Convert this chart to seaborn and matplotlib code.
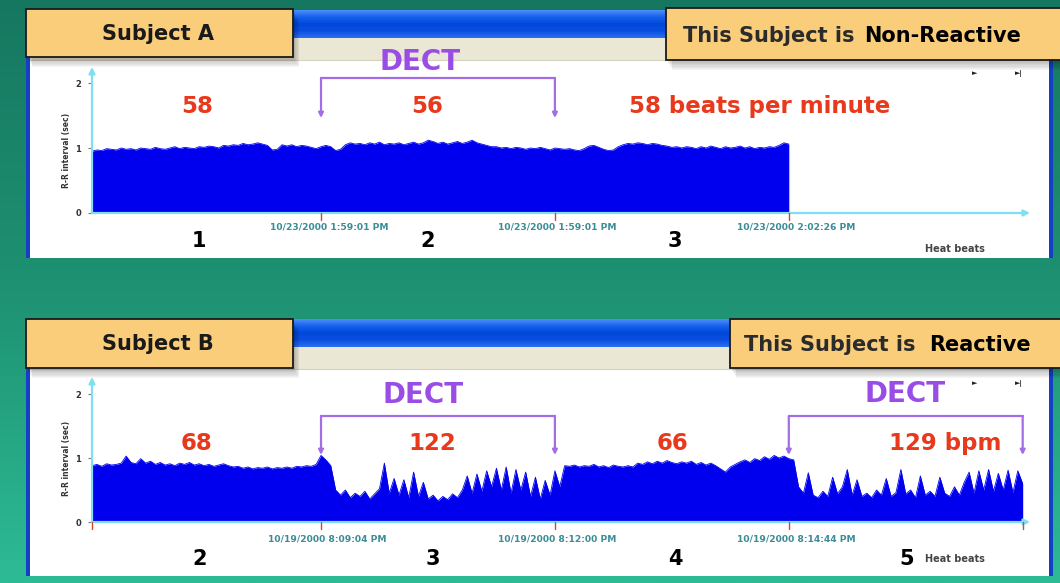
import numpy as np
import pandas as pd
import matplotlib
matplotlib.use("Agg")
import matplotlib.pyplot as plt
import seaborn as sns
from matplotlib.patches import Rectangle
from matplotlib.colors import LinearSegmentedColormap

# R-R interval envelope (sec), 48 samples per segment
a_seg1 = [0.95, 0.97, 0.96, 0.99, 0.98, 0.97, 1.00, 0.98, 0.99, 0.97,
          1.00, 0.99, 0.98, 1.01, 0.99, 0.98, 1.00, 1.02, 0.99, 1.01,
          1.00, 0.99, 1.02, 1.01, 1.03, 1.02, 1.00, 1.04, 1.03, 1.05,
          1.04, 1.07, 1.05, 1.06, 1.08, 1.06, 1.04, 0.97, 0.98, 1.05,
          1.03, 1.05, 1.02, 1.04, 1.03, 1.01, 0.99, 1.02]
a_seg2 = [1.04, 1.02, 0.96, 0.98, 1.05, 1.08, 1.06, 1.07, 1.05, 1.08,
          1.06, 1.09, 1.05, 1.07, 1.06, 1.08, 1.05, 1.07, 1.09, 1.06,
          1.08, 1.12, 1.10, 1.07, 1.09, 1.06, 1.08, 1.10, 1.07, 1.09,
          1.12, 1.08, 1.06, 1.04, 1.02, 1.02, 1.00, 1.01, 0.99, 1.01,
          1.00, 0.98, 1.00, 0.99, 1.01, 0.99, 0.97, 1.00]
a_seg3 = [0.99, 0.98, 0.99, 0.97, 0.96, 0.99, 1.03, 1.04, 1.01, 0.98,
          0.96, 0.97, 1.02, 1.05, 1.07, 1.06, 1.08, 1.07, 1.05, 1.07,
          1.06, 1.04, 1.03, 1.01, 1.02, 1.00, 1.02, 1.01, 0.99, 1.02,
          1.00, 1.03, 1.01, 0.99, 1.02, 1.00, 1.01, 1.03, 1.00, 1.02,
          0.99, 1.01, 1.00, 1.02, 1.01, 1.04, 1.08, 1.06]

b_seg1 = [0.88, 0.90, 0.87, 0.91, 0.89, 0.90, 0.92, 1.03, 0.93, 0.91,
          0.99, 0.92, 0.95, 0.90, 0.93, 0.89, 0.91, 0.88, 0.92, 0.90,
          0.93, 0.89, 0.91, 0.88, 0.90, 0.87, 0.89, 0.91, 0.88, 0.86,
          0.87, 0.84, 0.86, 0.83, 0.85, 0.84, 0.86, 0.83, 0.85, 0.84,
          0.86, 0.84, 0.87, 0.86, 0.88, 0.87, 0.90, 1.04]
b_seg2 = [0.97, 0.88, 0.50, 0.42, 0.50, 0.38, 0.45, 0.40, 0.48, 0.36,
          0.44, 0.52, 0.92, 0.45, 0.68, 0.42, 0.66, 0.38, 0.78, 0.40,
          0.62, 0.36, 0.42, 0.33, 0.40, 0.35, 0.44, 0.38, 0.50, 0.72,
          0.45, 0.75, 0.48, 0.80, 0.55, 0.84, 0.50, 0.86, 0.45, 0.82,
          0.50, 0.78, 0.40, 0.70, 0.36, 0.65, 0.42, 0.80]
b_seg3 = [0.55, 0.88, 0.87, 0.89, 0.86, 0.88, 0.87, 0.90, 0.86, 0.88,
          0.85, 0.89, 0.87, 0.86, 0.88, 0.86, 0.92, 0.90, 0.94, 0.91,
          0.95, 0.92, 0.96, 0.93, 0.91, 0.94, 0.92, 0.95, 0.90, 0.93,
          0.89, 0.92, 0.88, 0.83, 0.78, 0.86, 0.90, 0.94, 0.97, 0.93,
          0.99, 0.96, 1.02, 0.98, 1.04, 1.00, 1.03, 0.99]
b_seg4 = [0.97, 0.55, 0.45, 0.77, 0.42, 0.38, 0.48, 0.40, 0.70, 0.44,
          0.55, 0.82, 0.42, 0.66, 0.40, 0.45, 0.38, 0.50, 0.42, 0.68,
          0.40, 0.46, 0.82, 0.44, 0.50, 0.38, 0.72, 0.42, 0.48, 0.40,
          0.70, 0.45, 0.40, 0.55, 0.42, 0.62, 0.78, 0.45, 0.80, 0.50,
          0.82, 0.48, 0.76, 0.50, 0.81, 0.46, 0.80, 0.60]

a_dates = ["10/23/2000 1:59:01 PM", "10/23/2000 1:59:01 PM", "10/23/2000 2:02:26 PM"]
b_dates = ["10/19/2000 8:09:04 PM", "10/19/2000 8:12:00 PM", "10/19/2000 8:14:44 PM"]
a_rates = ["58", "56", "58 beats per minute"]
b_rates = ["68", "122", "66", "129 bpm"]
a_nums = ["1", "2", "3"]
b_nums = ["2", "3", "4", "5"]

BLUE = "#0000ee"
CYAN = "#7fdff2"
RED = "#e8391d"
PURPLE = "#9a4de6"
BRACKET = "#a36de6"
BOX = "#f9cd79"
DATE = "#3a8c95"

sns.set_style("white")
plt.rcParams["font.family"] = ["DejaVu Sans"]

W, H = 1060, 583
XMAX = 192.5
fig = plt.figure(figsize=(W / 100, H / 100), dpi=100)

# background: teal gradient + two XP style windows
bg = fig.add_axes([0, 0, 1, 1], zorder=0)
teal = LinearSegmentedColormap.from_list("teal", ["#167760", "#1e9273", "#2dbb95"])
bg.imshow(np.linspace(0, 1, 256)[:, None], extent=[0, W, H, 0], cmap=teal,
          aspect="auto", zorder=0)
titlebar = LinearSegmentedColormap.from_list("xp", ["#4a8cf8", "#1560ec", "#0048da", "#0a4ee0", "#2a6ef0"])


def window(y0, y1):
    bg.add_patch(Rectangle((28, y0), 1024, y1 - y0, fc="white", ec="none", zorder=1))
    bg.imshow(np.linspace(0, 1, 32)[:, None], extent=[28, 1052, y0 + 28, y0],
              cmap=titlebar, aspect="auto", zorder=2)
    bg.add_patch(Rectangle((28, y0 + 28), 1024, 22, fc="#ebe7d5", ec="none", zorder=2))
    bg.plot([28, 1052], [y0 + 50, y0 + 50], color="#d6d2c0", lw=0.8, zorder=3)
    bg.add_patch(Rectangle((26, y0), 4, y1 - y0, fc="#1440c8", ec="none", zorder=3))
    bg.add_patch(Rectangle((1049, y0 + 28), 4, y1 - y0 - 28, fc="#1440c8", ec="none", zorder=3))


window(10, 258)
window(319, 576)
bg.set_xlim(0, W)
bg.set_ylim(H, 0)
bg.axis("off")


def rr_panel(segments, y_top, y_base, ppu, origin_tick):
    ax = fig.add_axes([92 / W, 1 - y_base / H, 938 / W, (y_base - y_top) / H], zorder=2)
    ax.patch.set_alpha(0)
    values = np.concatenate(segments)
    df = pd.DataFrame({"beat": np.arange(len(values)), "rr": values})
    ax.fill_between(df["beat"], 0, df["rr"], color=BLUE, lw=0, zorder=2)
    sns.lineplot(data=df, x="beat", y="rr", ax=ax, color=BLUE, lw=0.6, zorder=3)
    ax.set_xlim(0, XMAX)
    ax.set_ylim(0, (y_base - y_top) / ppu)
    ax.set_xlabel("")
    ax.set_ylabel("")
    ax.set_xticks([])
    ax.set_yticks([0, 1, 2])
    ax.set_yticklabels(["0", "1", "2"], fontsize=6, fontweight="bold", color="#333333")
    ax.tick_params(axis="y", left=True, length=3, width=0.8, color="#777777", pad=5)
    for sp in ax.spines.values():
        sp.set_visible(False)
    arrow = dict(arrowstyle="-|>", color=CYAN, lw=1.6, mutation_scale=9, shrinkA=0, shrinkB=0)
    ax.annotate("", xy=(0, 1), xytext=(0, 0), xycoords="axes fraction", arrowprops=arrow, zorder=5)
    ax.annotate("", xy=(1, 0), xytext=(0, 0), xycoords="axes fraction", arrowprops=arrow, zorder=5)
    bounds = np.cumsum([len(s) for s in segments]) - 1
    ticks = list(bounds) + ([0] if origin_tick else [])
    for b in ticks:
        ax.plot([b, b], [0, -7 / ppu], color="#d9452c", lw=1.0, clip_on=False, zorder=6)
    return ax, bounds


def dect_bracket(ax, x0, x1, y_bar, y_tip):
    ax.plot([x0, x1], [y_bar, y_bar], color=BRACKET, lw=1.6, clip_on=False, zorder=6)
    for x in (x0, x1):
        ax.annotate("", xy=(x, y_tip), xytext=(x, y_bar),
                    arrowprops=dict(arrowstyle="-|>", color=BRACKET, lw=1.6,
                                    mutation_scale=7, shrinkA=0, shrinkB=0),
                    annotation_clip=False, zorder=6)


ax_a, bounds_a = rr_panel([a_seg1, a_seg2, a_seg3], 67, 213, 65, False)
ax_b, bounds_b = rr_panel([b_seg1, b_seg2, b_seg3, b_seg4], 377, 522, 64, True)
dect_bracket(ax_a, bounds_a[0], bounds_a[1], (213 - 78) / 65, (213 - 118) / 65)
dect_bracket(ax_b, bounds_b[0], bounds_b[1], (522 - 416) / 64, (522 - 455) / 64)
dect_bracket(ax_b, bounds_b[2], bounds_b[3], (522 - 416) / 64, (522 - 455) / 64)

# overlay for callouts and labels
ov = fig.add_axes([0, 0, 1, 1], zorder=3)
ov.patch.set_alpha(0)
ov.set_xlim(0, W)
ov.set_ylim(H, 0)
ov.axis("off")


def callout(x, y, w, h):
    for i in range(1, 9):
        ov.add_patch(Rectangle((x + i * 0.8, y + i * 1.3), w, h, fc="black", ec="none",
                               alpha=0.035, zorder=1))
    ov.add_patch(Rectangle((x, y), w, h, fc=BOX, ec="#1a1a1a", lw=1.3, zorder=2))


bold = dict(fontweight="bold", zorder=4)
callout(26, 9, 267, 48)
ov.text(102, 40, "Subject A", fontsize=15, color="#1a1a1a", **bold)
callout(666, 8, 400, 52)
ov.text(683, 42, "This Subject is", fontsize=15, color="#2b2b2b", **bold)
ov.text(864, 42, "Non-Reactive", fontsize=15, color="black", **bold)

callout(26, 319, 267, 49)
ov.text(102, 350, "Subject B", fontsize=15, color="#1a1a1a", **bold)
callout(730, 319, 336, 49)
ov.text(744, 351, "This Subject is", fontsize=15, color="#2b2b2b", **bold)
ov.text(929, 351, "Reactive", fontsize=15, color="black", **bold)

# DECT labels
for x, y in [(420, 70), (423, 403), (905, 402)]:
    ov.text(x, y, "DECT", fontsize=20, color=PURPLE, ha="center", **bold)

# heart rates
for label, x in zip(a_rates, [197, 427, 760]):
    ov.text(x, 113, label, fontsize=16.5, color=RED, ha="center", **bold)
for label, x in zip(b_rates, [196, 432, 673, 945]):
    ov.text(x, 450, label, fontsize=16.5, color=RED, ha="center", **bold)

# segment numbers
for label, x in zip(a_nums, [199, 428, 675]):
    ov.text(x, 247, label, fontsize=15, color="black", ha="center", **bold)
for label, x in zip(b_nums, [200, 433, 675, 907]):
    ov.text(x, 565, label, fontsize=15, color="black", ha="center", **bold)

# time stamps
for label, x in zip(a_dates, [270, 498, 737]):
    ov.text(x, 230, label, fontsize=6.6, color=DATE, **bold)
for label, x in zip(b_dates, [268, 498, 737]):
    ov.text(x, 542, label, fontsize=6.6, color=DATE, **bold)

for y in (252, 562):
    ov.text(925, y, "Heat beats", fontsize=7, color="#444444", **bold)
for yc in (150, 458):
    ov.text(67, yc, "R-R interval (sec)", fontsize=5.5, color="#333333", rotation=90,
            ha="center", va="center", **bold)
for y in (75, 385):
    ov.text(975, y, "\u25ba", fontsize=5, color="#222222", ha="center", **bold)
    ov.text(1019, y, "\u25ba|", fontsize=5, color="#222222", ha="center", **bold)

fig.savefig("out.png", dpi=100)
